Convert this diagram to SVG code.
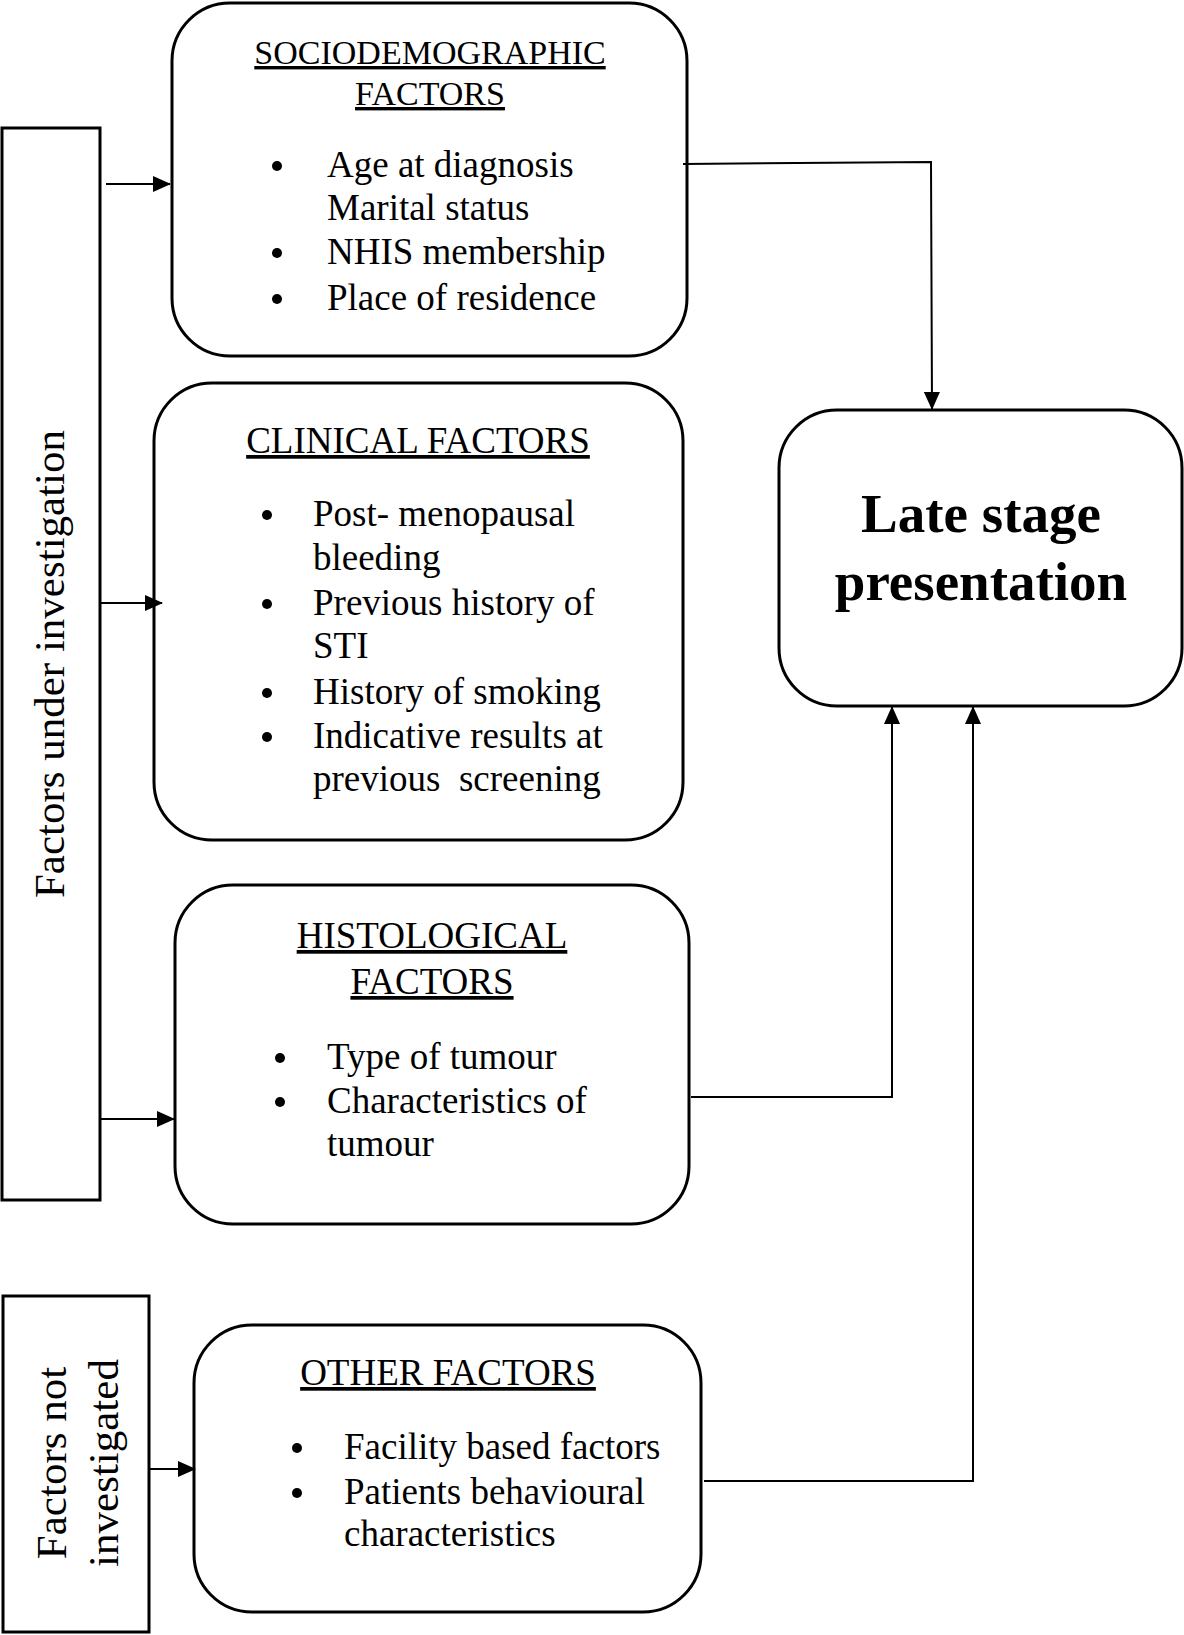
<svg xmlns="http://www.w3.org/2000/svg" width="1184" height="1635" viewBox="0 0 1184 1635">
<style>
text{font-family:"Liberation Serif","Times New Roman",serif;fill:#000}
.t{font-size:37px}
.h{font-size:37px;text-decoration:underline}
.b{font-size:55px;font-weight:bold}
.v{font-size:43px}
.box{fill:#fff;stroke:#000;stroke-width:3}
.c{fill:none;stroke:#000;stroke-width:2}
</style>
<defs>
<marker id="ah" markerWidth="18" markerHeight="16" refX="17" refY="8" orient="auto" markerUnits="userSpaceOnUse">
<path d="M0,0 L18,8 L0,16 Z" fill="#000"/>
</marker>
</defs>
<g id="under-investigation">
<rect class="box" x="2" y="128" width="98" height="1072"/>
<text class="v" transform="translate(64,664) rotate(-90)" text-anchor="middle">Factors under investigation</text>
</g>
<g id="not-investigated">
<rect class="box" x="3" y="1296" width="146" height="336"/>
<text class="v" transform="translate(66,1463) rotate(-90)" text-anchor="middle">Factors not</text>
<text class="v" transform="translate(118,1463) rotate(-90)" text-anchor="middle">investigated</text>
</g>
<g id="sociodemographic">
<rect class="box" x="172" y="3" width="515" height="353" rx="58"/>
<text class="h" style="font-size:34px" x="430" y="64" text-anchor="middle">SOCIODEMOGRAPHIC</text>
<text class="h" style="font-size:34px" x="430" y="105" text-anchor="middle">FACTORS</text>
<circle cx="277" cy="166" r="5"/>
<circle cx="277" cy="253" r="5"/>
<circle cx="277" cy="299" r="5"/>
<text class="t" x="327" y="177">Age at diagnosis</text>
<text class="t" x="327" y="220">Marital status</text>
<text class="t" x="327" y="264">NHIS membership</text>
<text class="t" x="327" y="310">Place of residence</text>
</g>
<g id="clinical">
<rect class="box" x="154" y="383" width="529" height="457" rx="58"/>
<text class="h" x="418" y="453" text-anchor="middle">CLINICAL FACTORS</text>
<circle cx="267" cy="515" r="5"/>
<circle cx="267" cy="604" r="5"/>
<circle cx="267" cy="693" r="5"/>
<circle cx="267" cy="737" r="5"/>
<text class="t" x="313" y="526">Post- menopausal</text>
<text class="t" x="313" y="570">bleeding</text>
<text class="t" x="313" y="615">Previous history of</text>
<text class="t" x="313" y="658">STI</text>
<text class="t" x="313" y="704">History of smoking</text>
<text class="t" x="313" y="748">Indicative results at</text>
<text class="t" x="313" y="791" xml:space="preserve">previous  screening</text>
</g>
<g id="histological">
<rect class="box" x="175" y="885" width="514" height="339" rx="58"/>
<text class="h" x="432" y="948" text-anchor="middle">HISTOLOGICAL</text>
<text class="h" x="432" y="994" text-anchor="middle">FACTORS</text>
<circle cx="280" cy="1058" r="5"/>
<circle cx="280" cy="1102" r="5"/>
<text class="t" x="327" y="1069">Type of tumour</text>
<text class="t" x="327" y="1113">Characteristics of</text>
<text class="t" x="327" y="1156">tumour</text>
</g>
<g id="other">
<rect class="box" x="194" y="1325" width="507" height="287" rx="58"/>
<text class="h" x="448" y="1385" text-anchor="middle">OTHER FACTORS</text>
<circle cx="297" cy="1448" r="5"/>
<circle cx="297" cy="1493" r="5"/>
<text class="t" x="344" y="1459">Facility based factors</text>
<text class="t" x="344" y="1504">Patients behavioural</text>
<text class="t" x="344" y="1546">characteristics</text>
</g>
<g id="late-stage">
<rect class="box" x="779" y="410" width="403" height="296" rx="58"/>
<text class="b" x="981" y="532" text-anchor="middle">Late stage</text>
<text class="b" x="981" y="600" text-anchor="middle">presentation</text>
</g>
<g id="connectors">
<line class="c" x1="106" y1="184" x2="170" y2="184" marker-end="url(#ah)"/>
<line class="c" x1="100" y1="603" x2="162" y2="603" marker-end="url(#ah)"/>
<line class="c" x1="100" y1="1119" x2="174" y2="1119" marker-end="url(#ah)"/>
<line class="c" x1="149" y1="1469" x2="195" y2="1469" marker-end="url(#ah)"/>
<polyline class="c" points="683,164 931,162 932,409" marker-end="url(#ah)"/>
<polyline class="c" points="691,1097 892,1097 892,707" marker-end="url(#ah)"/>
<polyline class="c" points="704,1481 973,1481 973,707" marker-end="url(#ah)"/>
</g>
</svg>
